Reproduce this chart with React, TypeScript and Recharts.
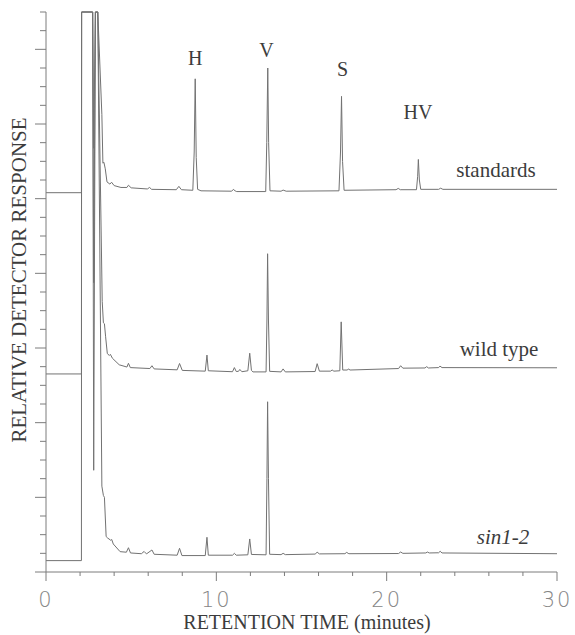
import { LineChart, Line, XAxis, YAxis, ReferenceDot, Label } from "recharts";

// retention time (min), detector response (offset units, 30 = recorder full scale)
const standards: [number, number][] = [
  [0, 20.32], [2.08, 20.32], [2.09, 30], [2.74, 30], [2.8, 22.7], [2.9, 30], [3.04, 30],
  [3.28, 24.5], [3.34, 21.9], [3.4, 21.95], [3.48, 21.6], [3.58, 20.9], [3.75, 20.78],
  [3.85, 20.88], [4.0, 20.7], [4.4, 20.6], [4.75, 20.6], [4.84, 20.72], [5.0, 20.58],
  [5.95, 20.52], [6.08, 20.6], [6.2, 20.5], [7.65, 20.48], [7.8, 20.66], [7.95, 20.48],
  [8.62, 20.45], [8.7, 22.5], [8.76, 26.42], [8.82, 22.2], [8.9, 20.5], [9.1, 20.42],
  [10.9, 20.4], [11.0, 20.5], [11.1, 20.42], [11.2, 20.38], [12.9, 20.38], [12.96, 23.0],
  [13.02, 27.0], [13.07, 23.0], [13.15, 20.42], [13.8, 20.4], [13.92, 20.46], [14.1, 20.4],
  [17.2, 20.42], [17.29, 22.5], [17.35, 25.48], [17.41, 22.0], [17.5, 20.45], [20.55, 20.48],
  [20.68, 20.55], [20.8, 20.48], [21.75, 20.48], [21.82, 21.2], [21.86, 22.1], [21.92, 21.0],
  [22.0, 20.5], [23.05, 20.5], [23.17, 20.56], [23.3, 20.5], [30, 20.5],
];

const wildType: [number, number][] = [
  [0, 10.61], [2.08, 10.61], [2.09, 30], [2.74, 30], [2.8, 15.5], [2.9, 30], [3.04, 30],
  [3.3, 14.5], [3.37, 13.35], [3.43, 13.3], [3.5, 12.6], [3.6, 11.7], [3.72, 11.6],
  [3.78, 11.66], [3.9, 11.45], [4.3, 11.1], [4.75, 10.98], [4.84, 11.18], [4.95, 10.95],
  [6.1, 10.9], [6.22, 11.05], [6.35, 10.88], [7.7, 10.83], [7.84, 11.17], [8.0, 10.8],
  [9.35, 10.76], [9.45, 11.62], [9.53, 10.78], [10.95, 10.73], [11.06, 10.95], [11.17, 10.74],
  [11.3, 10.75], [11.38, 10.85], [11.5, 10.73], [11.85, 10.78], [11.96, 11.72], [12.06, 10.8],
  [12.15, 10.72], [12.92, 10.72], [12.97, 13.5], [13.01, 17.05], [13.06, 13.5], [13.13, 10.75],
  [13.8, 10.72], [13.92, 10.88], [14.05, 10.72], [15.8, 10.74], [15.92, 11.16], [16.05, 10.76],
  [16.7, 10.76], [16.8, 10.82], [16.9, 10.76], [17.25, 10.78], [17.33, 13.4], [17.42, 10.82],
  [17.7, 10.82], [17.75, 10.88], [17.85, 10.82], [20.7, 10.9], [20.82, 11.05], [20.95, 10.92],
  [22.25, 10.93], [22.35, 11.0], [22.45, 10.93], [23.05, 10.95], [23.13, 11.03], [23.25, 10.95],
  [30, 10.94],
];

const sin12: [number, number][] = [
  [0, 0.61], [2.08, 0.61], [2.09, 30], [2.74, 30], [2.8, 5.45], [2.9, 30], [3.04, 30],
  [3.28, 4.6], [3.37, 4.1], [3.43, 4.0], [3.53, 1.9], [3.62, 1.82], [3.8, 1.7], [3.86, 1.74],
  [3.95, 1.5], [4.35, 1.09], [4.72, 1.06], [4.84, 1.3], [4.96, 1.02], [5.6, 0.98],
  [5.76, 1.1], [5.9, 0.97], [6.22, 1.18], [6.35, 0.95], [7.7, 0.9], [7.84, 1.27], [7.98, 0.88],
  [9.35, 0.88], [9.45, 1.86], [9.53, 0.9], [10.95, 0.9], [11.06, 1.0], [11.17, 0.9],
  [11.85, 0.92], [11.96, 1.77], [12.06, 0.94], [12.92, 0.92], [12.97, 5.0], [13.01, 9.12],
  [13.06, 5.0], [13.13, 0.95], [13.8, 0.93], [13.92, 1.0], [14.05, 0.93], [15.8, 0.96],
  [15.92, 1.06], [16.05, 0.97], [17.55, 0.98], [17.65, 1.05], [17.78, 0.98], [20.7, 0.99],
  [20.82, 1.07], [20.95, 1.0], [22.3, 1.02], [22.39, 1.07], [22.5, 1.02], [23.05, 1.03],
  [23.14, 1.11], [23.25, 1.02], [30, 0.98],
];

const xTicks = [0, 2, 4, 6, 8, 10, 12, 14, 16, 18, 20, 22, 24, 26, 28, 30];
const yTicks = Array.from({ length: 31 }, (_, i) => i);

const toRows = (pts: [number, number][]) => pts.map(([t, v]) => ({ t, v }));

const TRACE = "#727272";
const AXIS = "#7c7c7c";
const INK = "#3c3c3c";
const SERIF = "'Liberation Serif', 'Times New Roman', serif";

const XTick = (props: any) => {
  const { x, y, payload } = props;
  const major = payload.value % 10 === 0;
  return (
    <g>
      <line x1={x} x2={x} y1={y} y2={y + (major ? 9 : 4)} stroke={AXIS} />
      {major && (
        <text
          x={x}
          y={y + 35}
          textAnchor="middle"
          fill="#858585"
          fontSize={21}
          fontWeight={200}
          letterSpacing={2}
          fontFamily="'DejaVu Sans', sans-serif"
        >
          {payload.value}
        </text>
      )}
    </g>
  );
};

const YTick = (props: any) => {
  const { x, y, payload } = props;
  const len = payload.value % 4 === 0 ? 11 : 6;
  return <line x1={x - len} x2={x} y1={y} y2={y} stroke={AXIS} />;
};

const textLabel = (value: string, size = 20, italic = false) => ({
  value,
  position: "center" as const,
  fill: INK,
  fontSize: size,
  fontFamily: SERIF,
  fontStyle: italic ? "italic" : "normal",
});

export default function App() {
  return (
    <div style={{ position: "absolute", left: 0, top: 0, background: "#fff" }}>
      <LineChart width={575} height={635} margin={{ top: 12, right: 18, bottom: 0, left: 0 }}>
        <XAxis
          type="number"
          dataKey="t"
          domain={[0, 30]}
          ticks={xTicks}
          interval={0}
          height={63}
          tickSize={0}
          tickMargin={0}
          tick={<XTick />}
          axisLine={{ stroke: AXIS }}
          tickLine={false}
        >
          <Label
            content={() => (
              <text x={307} y={629} textAnchor="middle" fill={INK} fontSize={20} fontFamily={SERIF}>
                RETENTION TIME (minutes)
              </text>
            )}
          />
        </XAxis>
        <YAxis
          type="number"
          domain={[0, 30]}
          ticks={yTicks}
          interval={0}
          width={46}
          tickSize={0}
          tickMargin={0}
          tick={<YTick />}
          axisLine={{ stroke: AXIS }}
          tickLine={false}
        >
          <Label
            content={() => (
              <text
                x={19}
                y={280}
                transform="rotate(-90 19 280)"
                textAnchor="middle"
                dominantBaseline="central"
                fill={INK}
                fontSize={21}
                fontFamily={SERIF}
              >
                RELATIVE DETECTOR RESPONSE
              </text>
            )}
          />
        </YAxis>
        <Line data={toRows(standards)} dataKey="v" type="linear" dot={false} stroke={TRACE} strokeWidth={1} isAnimationActive={false} />
        <Line data={toRows(wildType)} dataKey="v" type="linear" dot={false} stroke={TRACE} strokeWidth={1} isAnimationActive={false} />
        <Line data={toRows(sin12)} dataKey="v" type="linear" dot={false} stroke={TRACE} strokeWidth={1} isAnimationActive={false} />
        <ReferenceDot x={8.76} y={27.54} r={0} fill="none" stroke="none" label={textLabel("H")} />
        <ReferenceDot x={12.94} y={27.96} r={0} fill="none" stroke="none" label={textLabel("V")} />
        <ReferenceDot x={17.41} y={26.95} r={0} fill="none" stroke="none" label={textLabel("S")} />
        <ReferenceDot x={21.84} y={24.64} r={0} fill="none" stroke="none" label={textLabel("HV")} />
        <ReferenceDot x={26.42} y={21.54} r={0} fill="none" stroke="none" label={textLabel("standards", 21)} />
        <ReferenceDot x={26.6} y={11.95} r={0} fill="none" stroke="none" label={textLabel("wild type", 21)} />
        <ReferenceDot x={26.83} y={1.9} r={0} fill="none" stroke="none" label={textLabel("sin1-2", 21, true)} />
      </LineChart>
    </div>
  );
}
